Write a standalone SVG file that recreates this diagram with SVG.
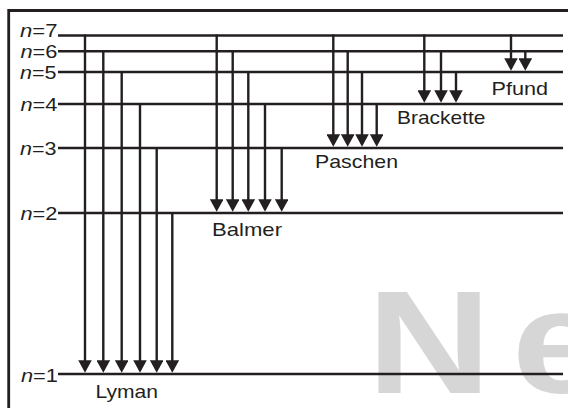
<svg xmlns="http://www.w3.org/2000/svg" width="568" height="408" viewBox="0 0 568 408">
<style>
.lvl{stroke:#231f20;stroke-width:2.6;fill:none}
.tr{stroke:#231f20;stroke-width:2.4;fill:none;marker-end:url(#ah)}
.lab{font-family:"Liberation Sans",Arial,sans-serif;font-size:19px;fill:#231f20}
.it{font-style:italic}
.wm{font-family:"Liberation Sans",Arial,sans-serif;font-size:147px;font-weight:bold;fill:#d6d6d6}
</style>
<defs>
<marker id="ah" markerUnits="userSpaceOnUse" markerWidth="13" markerHeight="13.5" viewBox="0 0 12.5 13.5" refX="9.5" refY="6.75" orient="auto">
<path d="M0,0 L12.5,6.75 L0,13.5 Z" fill="#231f20"/>
</marker>
</defs>
<rect width="568" height="408" fill="#ffffff"/>
<g id="watermark">
<text class="wm" transform="translate(380,392.7) scale(1.17,1)"><tspan x="-11.2">N</tspan><tspan x="112.7">e</tspan></text>
</g>
<g id="frame">
<path d="M8.7,408 V10.5 H568" stroke="#231f20" stroke-width="2.8" fill="none"/>
</g>
<g id="level-7"><line class="lvl" x1="58" y1="35.5" x2="563" y2="35.5"/><text class="lab" x="20" y="36.7" textLength="37.5" lengthAdjust="spacingAndGlyphs"><tspan class="it">n</tspan>=7</text></g>
<g id="level-6"><line class="lvl" x1="58" y1="51.3" x2="563" y2="51.3"/><text class="lab" x="20.5" y="57.5" textLength="37" lengthAdjust="spacingAndGlyphs"><tspan class="it">n</tspan>=6</text></g>
<g id="level-5"><line class="lvl" x1="58" y1="72" x2="563" y2="72"/><text class="lab" x="20" y="79" textLength="36.5" lengthAdjust="spacingAndGlyphs"><tspan class="it">n</tspan>=5</text></g>
<g id="level-4"><line class="lvl" x1="58" y1="104" x2="563" y2="104"/><text class="lab" x="20.5" y="111" textLength="37" lengthAdjust="spacingAndGlyphs"><tspan class="it">n</tspan>=4</text></g>
<g id="level-3"><line class="lvl" x1="58" y1="148" x2="563" y2="148"/><text class="lab" x="20" y="155" textLength="36.5" lengthAdjust="spacingAndGlyphs"><tspan class="it">n</tspan>=3</text></g>
<g id="level-2"><line class="lvl" x1="58" y1="213" x2="563" y2="213"/><text class="lab" x="20.5" y="220" textLength="37" lengthAdjust="spacingAndGlyphs"><tspan class="it">n</tspan>=2</text></g>
<g id="level-1"><line class="lvl" x1="58" y1="374" x2="563" y2="374"/><text class="lab" x="21" y="381.5" textLength="37" lengthAdjust="spacingAndGlyphs"><tspan class="it">n</tspan>=1</text></g>
<g id="connectors">
<line class="tr" x1="85" y1="34.5" x2="85" y2="369.8"/>
<line class="tr" x1="103.3" y1="50.3" x2="103.3" y2="369.8"/>
<line class="tr" x1="121.7" y1="71" x2="121.7" y2="369.8"/>
<line class="tr" x1="140" y1="103" x2="140" y2="369.8"/>
<line class="tr" x1="156.7" y1="147" x2="156.7" y2="369.8"/>
<line class="tr" x1="172.3" y1="212" x2="172.3" y2="369.8"/>
<line class="tr" x1="216.7" y1="34.5" x2="216.7" y2="208.8"/>
<line class="tr" x1="232.7" y1="50.3" x2="232.7" y2="208.8"/>
<line class="tr" x1="248.3" y1="71" x2="248.3" y2="208.8"/>
<line class="tr" x1="265" y1="103" x2="265" y2="208.8"/>
<line class="tr" x1="281.7" y1="147" x2="281.7" y2="208.8"/>
<line class="tr" x1="333.3" y1="34.5" x2="333.3" y2="143.8"/>
<line class="tr" x1="347.7" y1="50.3" x2="347.7" y2="143.8"/>
<line class="tr" x1="362" y1="71" x2="362" y2="143.8"/>
<line class="tr" x1="376.7" y1="103" x2="376.7" y2="143.8"/>
<line class="tr" x1="424.3" y1="34.5" x2="424.3" y2="99.8"/>
<line class="tr" x1="441" y1="50.3" x2="441" y2="99.8"/>
<line class="tr" x1="456" y1="71" x2="456" y2="99.8"/>
<line class="tr" x1="511" y1="34.5" x2="511" y2="67.8"/>
<line class="tr" x1="525.3" y1="50.3" x2="525.3" y2="67.8"/>
</g>
<g id="series-lyman"><text class="lab" x="95.5" y="397.5" textLength="62.5" lengthAdjust="spacingAndGlyphs">Lyman</text></g>
<g id="series-balmer"><text class="lab" x="212" y="235.5" textLength="70" lengthAdjust="spacingAndGlyphs">Balmer</text></g>
<g id="series-paschen"><text class="lab" x="315" y="168.3" textLength="83" lengthAdjust="spacingAndGlyphs">Paschen</text></g>
<g id="series-brackette"><text class="lab" x="397" y="124.3" textLength="88.5" lengthAdjust="spacingAndGlyphs">Brackette</text></g>
<g id="series-pfund"><text class="lab" x="491.5" y="95" textLength="56.5" lengthAdjust="spacingAndGlyphs">Pfund</text></g>
</svg>
